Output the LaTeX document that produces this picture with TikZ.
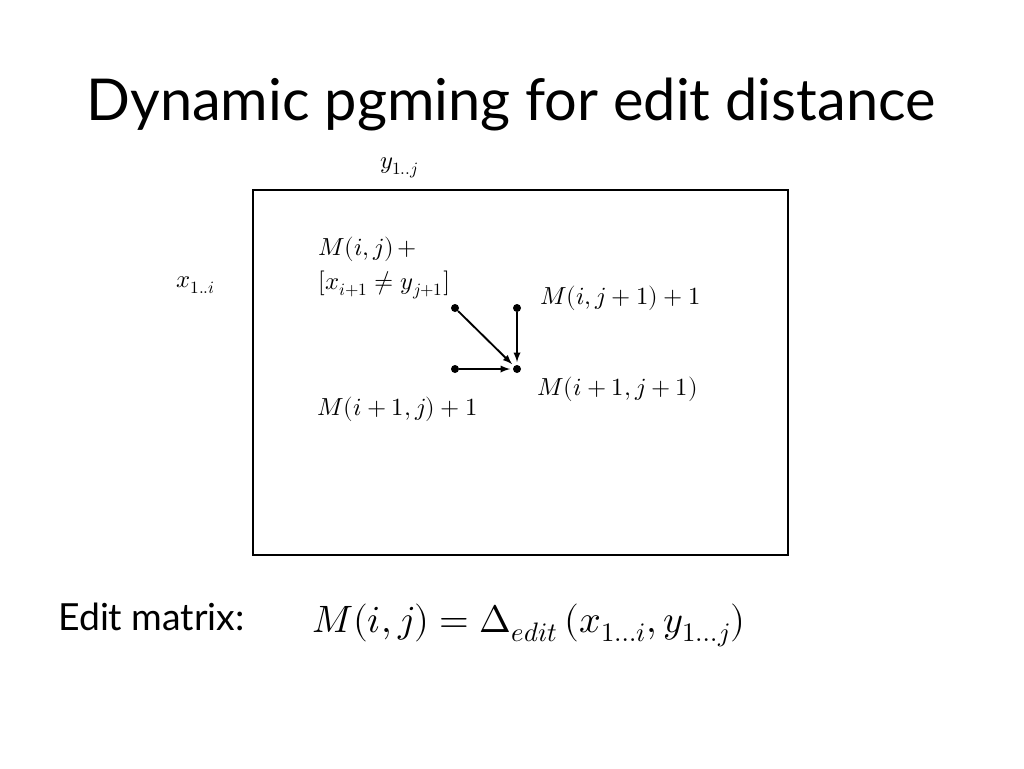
\documentclass[tikz,border=0pt]{standalone}
\usepackage{fontspec}
\usepackage{unicode-math}
\setmainfont{Lato}
\setmathfont{Latin Modern Math}
\usetikzlibrary{positioning}

\tikzset{
  dot/.style={circle,fill=black,inner sep=0pt,minimum size=6pt},
  lbl/.style={anchor=base west,inner sep=0pt,font=\fontsize{18.5}{22}\selectfont},
  edge/.style={->,>=latex,line width=1.4pt,shorten >=2pt}
}

\begin{document}
\begin{tikzpicture}[x=0.75pt,y=-0.75pt]

	\useasboundingbox (0,0) rectangle (1024,768);

	% title
	\node[anchor=base,inner sep=0pt,font=\fontsize{43.3}{50}\selectfont] (title) at (511,120) {Dynamic pgming for edit distance};

	% matrix frame
	\draw[line width=1.6pt] (253,190) rectangle (788,555);
	\node[lbl] (ylab) at (380,168) {$y_{1..j}$};
	\node[lbl] (xlab) at (176,287) {$x_{1..i}$};

	% cells
	\node[dot] (diag) at (455,308) {};
	\node[dot] (up) at (517,308) {};
	\node[dot] (left) at (455,369) {};
	\node[dot] (cell) at (517,369) {};

	% moves
	\draw[edge] (diag) -- (cell);
	\draw[edge] (up) -- (cell);
	\draw[edge] (left) -- (cell);

	% cell labels
	\node[lbl] (diagA) at (318,255) {$M(i,j)\,+$};
	\node[lbl] (diagB) at (318,289) {$[x_{i+1}\neq y_{j+1}]$};
	\node[lbl] (upl) at (540,304) {$M(i,j+1)+1$};
	\node[lbl] (celll) at (537,395) {$M(i+1,j+1)$};
	\node[lbl] (leftl) at (317,415) {$M(i+1,j)+1$};

	% definition
	\node[anchor=base west,inner sep=0pt,font=\fontsize{28}{33}\selectfont] (deftext) at (58,630) {Edit matrix:};
	\node[anchor=base west,inner sep=0pt,font=\fontsize{28.6}{34}\selectfont] (defmath) at (312,632) {$M(i,j)=\Delta_{edit}\,(x_{1\ldots i},y_{1\ldots j})$};

\end{tikzpicture}
\end{document}
